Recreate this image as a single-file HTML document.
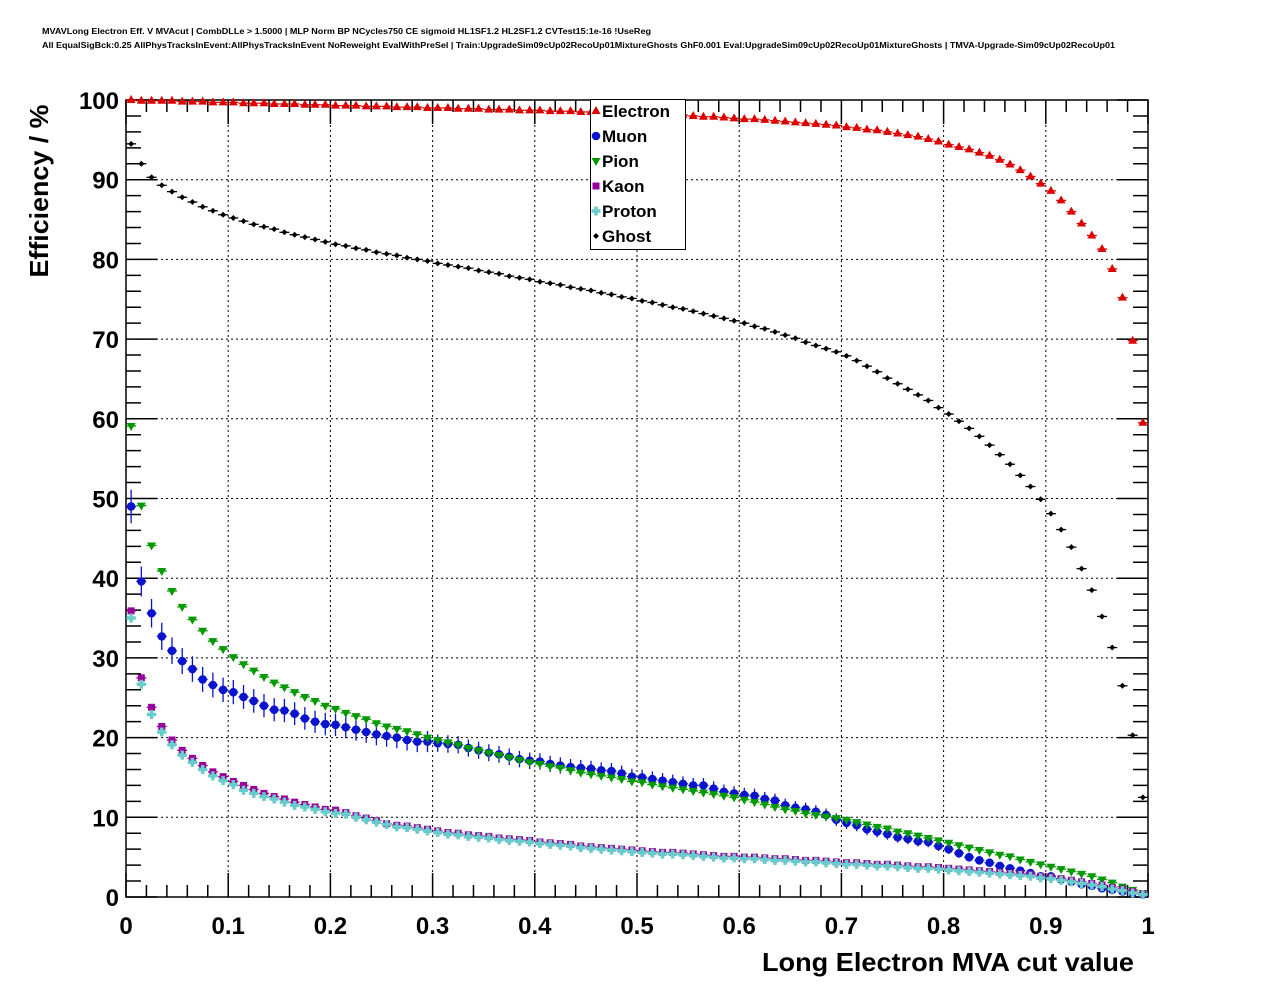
<!DOCTYPE html>
<html><head><meta charset="utf-8"><style>
body{margin:0;background:#fff;}
svg{display:block;font-family:"Liberation Sans",Arial,sans-serif;}
</style></head><body>
<svg id="chart" width="1276" height="996" viewBox="0 0 1276 996" xmlns="http://www.w3.org/2000/svg">
<rect width="1276" height="996" fill="#fff"/>
<text x="42" y="34" font-size="8" font-weight="bold" textLength="609" lengthAdjust="spacingAndGlyphs">MVAVLong Electron Eff. V MVAcut | CombDLLe &gt; 1.5000 | MLP Norm BP NCycles750 CE sigmoid HL1SF1.2 HL2SF1.2 CVTest15:1e-16 !UseReg</text>
<text x="42" y="48" font-size="8" font-weight="bold" textLength="1073" lengthAdjust="spacingAndGlyphs">All EqualSigBck:0.25 AllPhysTracksInEvent:AllPhysTracksInEvent NoReweight EvalWithPreSel | Train:UpgradeSim09cUp02RecoUp01MixtureGhosts GhF0.001 Eval:UpgradeSim09cUp02RecoUp01MixtureGhosts | TMVA-Upgrade-Sim09cUp02RecoUp01</text>
<g id="grid"></g>
<g id="axes"></g>
<g id="marks"></g>
<text transform="translate(48,191) rotate(-90)" text-anchor="middle" font-size="26" font-weight="bold" textLength="173" lengthAdjust="spacingAndGlyphs">Efficiency / %</text>
<text x="1134" y="971" text-anchor="end" font-size="26" font-weight="bold" textLength="372" lengthAdjust="spacingAndGlyphs">Long Electron MVA cut value</text>
<g id="legend"></g>
</svg>
<script>
const xTicks=[0,0.1,0.2,0.3,0.4,0.5,0.6,0.7,0.8,0.9,1];
const xTickLabels=["0","0.1","0.2","0.3","0.4","0.5","0.6","0.7","0.8","0.9","1"];
const yTicks=[0,10,20,30,40,50,60,70,80,90,100];
const yTickLabels=["0","10","20","30","40","50","60","70","80","90","100"];
const nBins=100;
const electron=[100,99.9,99.9,99.9,99.9,99.8,99.8,99.8,99.7,99.7,
99.7,99.6,99.6,99.6,99.5,99.5,99.5,99.4,99.4,99.4,
99.3,99.3,99.3,99.2,99.2,99.2,99.1,99.1,99.1,99.0,
99.0,99.0,98.9,98.9,98.9,98.8,98.8,98.8,98.7,98.7,
98.7,98.6,98.6,98.6,98.5,98.5,98.4,98.4,98.4,98.3,
98.3,98.2,98.2,98.1,98.1,98.0,97.9,97.9,97.8,97.7,
97.6,97.6,97.5,97.4,97.3,97.2,97.1,97.0,96.9,96.8,
96.6,96.5,96.3,96.2,96.0,95.8,95.6,95.4,95.1,94.8,
94.4,94.1,93.8,93.4,93.0,92.5,91.9,91.2,90.4,89.5,
88.6,87.4,86.0,84.5,83.0,81.3,78.8,75.2,69.8,59.5];
const ghost=[94.5,92.0,90.3,89.3,88.5,87.8,87.2,86.6,86.1,85.6,
85.2,84.8,84.4,84.1,83.8,83.4,83.1,82.8,82.5,82.2,
81.9,81.7,81.4,81.2,80.9,80.7,80.5,80.2,80.0,79.8,
79.5,79.3,79.1,78.9,78.6,78.4,78.2,77.9,77.7,77.5,
77.2,77.0,76.8,76.5,76.3,76.1,75.8,75.6,75.3,75.1,
74.8,74.6,74.3,74.0,73.8,73.5,73.2,72.9,72.6,72.3,
72.0,71.6,71.3,70.9,70.5,70.1,69.6,69.2,68.8,68.4,
67.9,67.3,66.6,65.9,65.1,64.4,63.7,63.0,62.3,61.4,
60.6,59.7,58.8,57.8,56.7,55.5,54.3,52.9,51.5,49.9,
48.1,46.1,43.9,41.2,38.5,35.2,31.3,26.5,20.3,12.5];
const pion=[59.1,49.1,44.1,40.9,38.4,36.4,34.8,33.4,32.1,31.1,
30.1,29.2,28.4,27.6,26.9,26.3,25.7,25.1,24.6,24.0,
23.6,23.1,22.7,22.3,21.8,21.4,21.1,20.8,20.4,20.0,
19.7,19.4,19.1,18.7,18.4,18.1,17.8,17.5,17.2,16.9,
16.7,16.4,16.2,15.9,15.6,15.4,15.2,15.0,14.8,14.5,
14.4,14.1,13.9,13.7,13.5,13.3,13.1,12.9,12.7,12.5,
12.2,11.9,11.6,11.3,11.0,10.8,10.5,10.3,10.1,9.9,
9.7,9.4,9.1,8.8,8.6,8.2,8.0,7.7,7.4,7.1,
6.8,6.5,6.2,5.9,5.6,5.3,5.1,4.7,4.4,4.1,
3.8,3.5,3.2,2.9,2.6,2.2,1.8,1.3,0.9,0.5];
const muon=[49.0,39.6,35.6,32.7,30.9,29.6,28.6,27.3,26.6,26.0,
25.7,25.1,24.6,24.0,23.5,23.4,23.0,22.4,22.0,21.7,
21.6,21.3,21.0,20.7,20.4,20.2,20.0,19.7,19.5,19.5,
19.3,19.2,19.1,18.7,18.4,18.1,17.9,17.6,17.3,17.1,
17.0,16.7,16.5,16.3,16.2,16.1,15.9,15.8,15.5,15.1,
15.0,14.8,14.6,14.4,14.2,14.0,14.0,13.6,13.2,13.0,
12.8,12.7,12.3,12.1,11.5,11.2,11.0,10.7,10.3,9.7,
9.3,9.0,8.5,8.2,7.9,7.5,7.3,7.0,6.9,6.4,
6.0,5.5,5.0,4.6,4.3,3.9,3.6,3.3,3.0,2.6,
2.6,2.2,1.9,1.6,1.4,1.1,0.9,0.7,0.5,0.3];
const kaon=[35.9,27.5,23.8,21.4,19.7,18.4,17.4,16.5,15.7,15.1,
14.5,14.0,13.5,13.0,12.6,12.3,11.9,11.6,11.3,11.0,
10.9,10.6,10.2,9.9,9.6,9.2,9.0,8.9,8.7,8.5,
8.3,8.1,8.0,7.8,7.7,7.6,7.4,7.3,7.2,7.1,
6.9,6.8,6.7,6.6,6.4,6.3,6.2,6.1,6.0,5.9,
5.8,5.7,5.6,5.6,5.5,5.4,5.3,5.2,5.1,5.1,
5.0,5.0,4.9,4.8,4.8,4.7,4.6,4.6,4.5,4.4,
4.3,4.3,4.2,4.1,4.1,4.0,3.9,3.8,3.8,3.7,
3.6,3.5,3.4,3.3,3.2,3.1,3.0,2.9,2.8,2.6,
2.5,2.3,2.1,1.9,1.7,1.5,1.2,1.0,0.7,0.4];
const proton=[35.0,26.7,22.9,20.7,19.1,17.8,16.9,16.0,15.2,14.6,
14.1,13.4,13.0,12.6,12.3,11.9,11.5,11.3,11.0,10.7,
10.5,10.4,10.0,9.7,9.4,9.1,8.8,8.7,8.5,8.3,
8.1,7.9,7.8,7.6,7.5,7.4,7.2,7.1,7.0,6.9,
6.7,6.6,6.5,6.4,6.2,6.1,6.0,5.9,5.8,5.7,
5.6,5.5,5.4,5.4,5.3,5.2,5.1,5.0,4.9,4.9,
4.8,4.8,4.7,4.6,4.6,4.5,4.4,4.4,4.3,4.2,
4.1,4.1,4.0,3.9,3.9,3.8,3.7,3.6,3.6,3.5,
3.4,3.3,3.2,3.1,3.0,2.9,2.8,2.7,2.6,2.4,
2.3,2.1,1.9,1.7,1.5,1.3,1.0,0.8,0.5,0.3];
const seriesNames=["Electron","Muon","Pion","Kaon","Proton","Ghost"];

const NS="http://www.w3.org/2000/svg";
const X0=126,X1=1148,Y0=897,Y1=100;
function xs(v){return X0+(X1-X0)*v;}
function ys(v){return Y0-(Y0-Y1)*v/100;}
function mk(tag,attrs,parent){const e=document.createElementNS(NS,tag);for(const k in attrs)e.setAttribute(k,attrs[k]);parent.appendChild(e);return e;}
const grid=document.getElementById('grid'),axes=document.getElementById('axes'),marks=document.getElementById('marks'),legend=document.getElementById('legend');

xTicks.forEach((t,i)=>{
  if(i>0&&i<xTicks.length-1){const g=mk('line',{x1:xs(t),x2:xs(t),y1:Y0,y2:Y1,stroke:'#000','stroke-width':1,'stroke-dasharray':'2,3'},grid);
  
  }
  const tl=mk('text',{x:xs(t),y:934,'text-anchor':'middle','font-size':24,'font-weight':'bold'},axes);
  tl.textContent=xTickLabels[i];
  
  
});
yTicks.forEach((t,i)=>{
  if(i>0&&i<yTicks.length-1){const g=mk('line',{x1:X0,x2:X1,y1:ys(t),y2:ys(t),stroke:'#000','stroke-width':1,'stroke-dasharray':'2,3'},grid);
  
  }
  const tl=mk('text',{x:119,y:ys(t)+9,'text-anchor':'end','font-size':24,'font-weight':'bold'},axes);
  tl.textContent=yTickLabels[i];
  
  
});
let tp='';
for(let k=0;k<=50;k++){const x=xs(k/50);const L=(k%5==0)?24:12;tp+=`M${x},${Y0}v${-L}M${x},${Y1}v${L}`;}
for(let k=0;k<=50;k++){const y=ys(k*2);const L=(k%5==0)?31:15;tp+=`M${X0},${y}h${L}M${X1},${y}h${-L}`;}
const tk=mk('path',{d:tp,stroke:'#000','stroke-width':1.5,fill:'none'},axes);


const fr=mk('rect',{x:X0,y:Y1,width:X1-X0,height:Y0-Y1,fill:'none',stroke:'#000','stroke-width':1.5},axes);



function marker(type,cx,cy,col,parent){
  let e;
  if(type==='tri')e=mk('path',{d:`M${cx},${cy-5}L${cx+4.5},${cy+3}L${cx-4.5},${cy+3}Z`,fill:col},parent);
  else if(type==='dtri')e=mk('path',{d:`M${cx},${cy+5}L${cx+4.5},${cy-3}L${cx-4.5},${cy-3}Z`,fill:col},parent);
  else if(type==='circ')e=mk('circle',{cx:cx,cy:cy,r:4.3,fill:col},parent);
  else if(type==='sq')e=mk('rect',{x:cx-3.5,y:cy-3.5,width:7,height:7,fill:col},parent);
  else if(type==='cross')e=mk('path',{d:`M${cx-4.5},${cy}h9M${cx},${cy-4.5}v9`,stroke:col,'stroke-width':3.5},parent);
  else e=mk('path',{d:`M${cx},${cy-3}L${cx+3},${cy}L${cx},${cy+3}L${cx-3},${cy}Z`,fill:col},parent);
  return e;
}
const defs=[
 {name:'electron',data:electron,type:'tri',col:'#dd0000',err:0},
 {name:'muon',data:muon,type:'circ',col:'#0a14cc',err:1},
 {name:'pion',data:pion,type:'dtri',col:'#009900',err:0},
 {name:'kaon',data:kaon,type:'sq',col:'#990099',err:0},
 {name:'proton',data:proton,type:'cross',col:'#66cccc',err:0},
 {name:'ghost',data:ghost,type:'dia',col:'#000000',err:0}];
defs.forEach(s=>{
  const g=mk('g',{},marks);
  
  
  s.data.forEach((v,i)=>{
    const xc=(i+0.5)/nBins;const cx=xs(xc),cy=ys(v);
    let d=`M${cx-5},${cy}h10`;
    if(s.err){const e=Math.max(0.25,0.25*Math.sqrt(v)*(i<30?1.2:1));d+=`M${cx},${ys(v+e)}V${ys(v-e)}`;}
    const eb=mk('path',{d:d,stroke:s.col,'stroke-width':1.3,fill:'none'},g);
    
    
    const m=marker(s.type,cx,cy,s.col,g);
    
    
  });
});
const lb=mk('rect',{x:590.5,y:99.5,width:95,height:150,fill:'#fff',stroke:'#000','stroke-width':1},legend);


seriesNames.forEach((n,i)=>{
  const y=111+25*i;
  const g=mk('g',{},legend);
  
  
  const m=marker(defs[i].type,596,y,defs[i].col,g);
  
  
  const t=mk('text',{x:602,y:y+6,'font-size':17,'font-weight':'bold'},g);
  t.textContent=n;
  
  
});
</script>
</body></html>
